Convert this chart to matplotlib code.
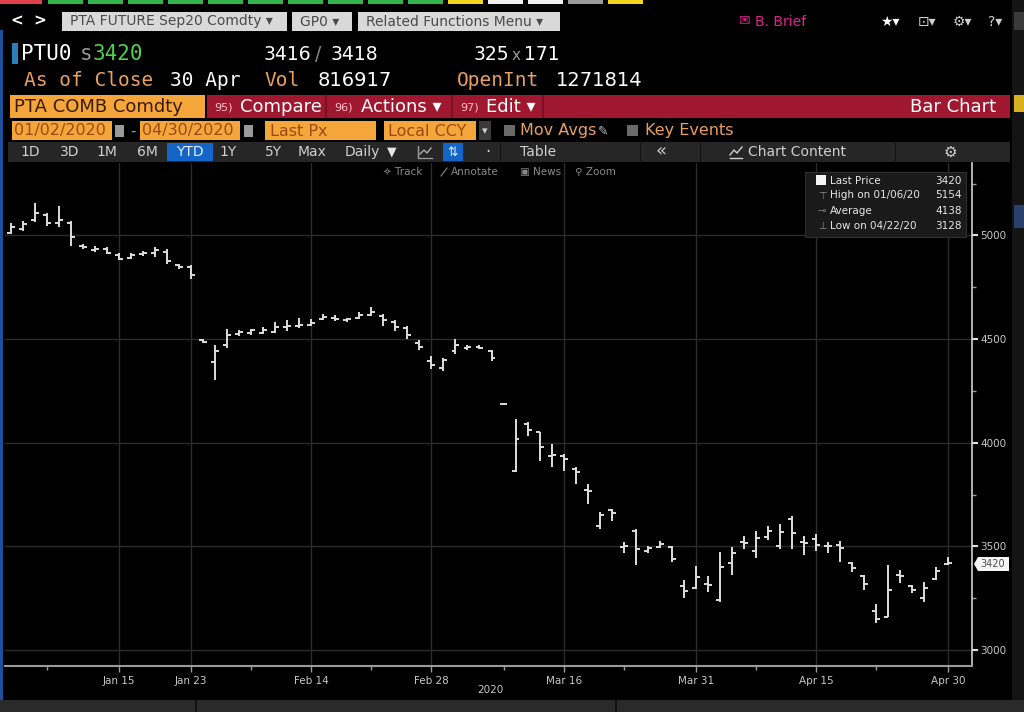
import matplotlib
matplotlib.use("Agg")
import matplotlib.pyplot as plt
from matplotlib.patches import Rectangle, Polygon
from matplotlib.lines import Line2D

# ---------------- data ----------------
dates = (["2020-01-%02d" % d for d in [2, 3, 6, 7, 8, 9, 10, 13, 14, 15, 16, 17, 20, 21, 22, 23]] +
         ["2020-02-%02d" % d for d in [3, 4, 5, 6, 7, 10, 11, 12, 13, 14, 17, 18, 19, 20, 21, 24, 25, 26, 27, 28]] +
         ["2020-03-%02d" % d for d in [2, 3, 4, 5, 6, 9, 10, 11, 12, 13, 16, 17, 18, 19, 20, 23, 24, 25, 26, 27, 30, 31]] +
         ["2020-04-%02d" % d for d in [1, 2, 3, 7, 8, 9, 10, 13, 14, 15, 16, 17, 20, 21, 22, 23, 24, 27, 28, 29, 30]])

opens = [5010, 5030, 5075, 5100, 5060, 5060, 4950, 4930, 4935, 4905, 4890, 4910, 4915, 4920, 4855, 4845,
         4495, 4390, 4470, 4525, 4530, 4530, 4535, 4560, 4565, 4570, 4595, 4600, 4590, 4600, 4615, 4610,
         4580, 4555, 4480, 4395, 4360, 4440, 4455, 4460, 4440, 4187, 3864, 4090, 4050, 3935, 3935, 3875,
         3770, 3600, 3675, 3495, 3575, 3480, 3495, 3495, 3310, 3300, 3320, 3240, 3420, 3520, 3480, 3545,
         3500, 3630, 3520, 3535, 3500, 3505, 3420, 3355, 3190, 3160, 3360, 3310, 3250, 3345, 3415]
highs = [5060, 5070, 5154, 5110, 5140, 5070, 4958, 4948, 4945, 4915, 4915, 4925, 4945, 4935, 4862, 4855,
         4500, 4470, 4550, 4545, 4550, 4560, 4580, 4590, 4600, 4598, 4620, 4615, 4600, 4630, 4655, 4620,
         4590, 4565, 4495, 4420, 4410, 4500, 4470, 4470, 4445, 4190, 4114, 4100, 4051, 3993, 3945, 3882,
         3800, 3664, 3680, 3520, 3582, 3500, 3525, 3500, 3340, 3403, 3355, 3475, 3495, 3548, 3572, 3596,
         3606, 3645, 3548, 3560, 3520, 3525, 3427, 3364, 3220, 3410, 3385, 3315, 3330, 3400, 3450]
lows = [5005, 5020, 5065, 5045, 5040, 4950, 4935, 4920, 4910, 4880, 4885, 4900, 4895, 4860, 4840, 4790,
        4480, 4300, 4455, 4515, 4520, 4525, 4530, 4540, 4555, 4565, 4590, 4585, 4580, 4595, 4610, 4565,
        4540, 4500, 4445, 4355, 4348, 4430, 4445, 4450, 4395, 4182, 3858, 4032, 3911, 3882, 3862, 3800,
        3703, 3582, 3620, 3470, 3412, 3470, 3490, 3427, 3253, 3292, 3282, 3230, 3364, 3485, 3446, 3533,
        3485, 3485, 3460, 3480, 3470, 3427, 3378, 3290, 3128, 3160, 3325, 3275, 3230, 3340, 3410]
closes = [5040, 5055, 5110, 5060, 5075, 4990, 4945, 4935, 4915, 4885, 4905, 4915, 4930, 4875, 4845, 4810,
          4488, 4440, 4520, 4535, 4545, 4545, 4560, 4565, 4570, 4575, 4605, 4595, 4595, 4615, 4630, 4590,
          4560, 4520, 4460, 4375, 4400, 4470, 4460, 4458, 4410, 4185, 4017, 4060, 3978, 3940, 3920, 3860,
          3765, 3650, 3660, 3500, 3485, 3490, 3510, 3440, 3285, 3350, 3315, 3400, 3470, 3515, 3540, 3575,
          3570, 3565, 3515, 3505, 3500, 3490, 3395, 3320, 3150, 3290, 3355, 3290, 3300, 3380, 3420]

xtick_dates = ["2020-01-15", "2020-01-23", "2020-02-14", "2020-02-28", "2020-03-16",
               "2020-03-31", "2020-04-15", "2020-04-30"]
xtick_labels = ["Jan 15", "Jan 23", "Feb 14", "Feb 28", "Mar 16", "Mar 31", "Apr 15", "Apr 30"]
minor_dates = ["2020-01-07", "2020-02-07", "2020-02-21", "2020-03-09", "2020-03-23",
               "2020-04-08", "2020-04-22"]
yticks = [3000, 3500, 4000, 4500, 5000]

legend_labels = ["Last Price", "High on 01/06/20", "Average", "Low on 04/22/20"]
legend_values = ["3420", "5154", "4138", "3128"]

# ---------------- figure helpers ----------------
W, H = 1024, 712
fig = plt.figure(figsize=(W / 100, H / 100), dpi=100, facecolor="black")


def fx(x):
    return x / W


def fy(y):
    return 1 - y / H


def rect(x0, y0, x1, y1, color, z=1, **kw):
    fig.patches.append(Rectangle((fx(x0), fy(y1)), (x1 - x0) / W, (y1 - y0) / H,
                                 transform=fig.transFigure, facecolor=color,
                                 edgecolor=kw.pop("ec", "none"), lw=kw.pop("lw", 0), zorder=z, **kw))


def txt(x, y, s, color="white", size=10, ha="left", family="DejaVu Sans", **kw):
    fig.text(fx(x), fy(y), s, color=color, fontsize=size, ha=ha, va="center",
             family=family, **kw)


def pline(pts, color, lw=1.0, z=5):
    fig.lines.append(Line2D([fx(p[0]) for p in pts], [fy(p[1]) for p in pts],
                            transform=fig.transFigure, color=color, lw=lw, zorder=z))


# top colored tabs
rect(0, 0, 42, 4, "#e0404a")
for k in range(10):
    rect(48 + k * 40, 0, 83 + k * 40, 4, "#2fb34a")
rect(448, 0, 483, 4, "#f2d51c")
rect(488, 0, 523, 4, "#f0f0f0")
rect(528, 0, 563, 4, "#f0f0f0")
rect(568, 0, 603, 4, "#9a9a9a")
rect(608, 0, 643, 4, "#f2d51c")

# left blue border
rect(0, 30, 3, 712, "#1f4f9a")

# row 1
txt(10, 21, "<", "white", 11, weight="bold")
txt(33, 21, ">", "white", 11, weight="bold")
rect(62, 12, 287, 31, "#d9d9d9")
txt(70, 21.5, "PTA FUTURE Sep20 Comdty ▾", "#4a4a4a", 10)
rect(292, 12, 352, 31, "#d9d9d9")
txt(300, 21.5, "GP0 ▾", "#4a4a4a", 10)
rect(358, 12, 560, 31, "#d9d9d9")
txt(366, 21.5, "Related Functions Menu ▾", "#4a4a4a", 10)
txt(738, 21.5, "✉", "#e0208f", 10)
txt(755, 21.5, "B. Brief", "#e0208f", 10)
txt(880, 21.5, "★▾", "white", 10)
txt(918, 21.5, "⊡▾", "#cfcfcf", 10)
txt(953, 21.5, "⚙▾", "#cfcfcf", 10)
txt(988, 21.5, "?▾", "#cfcfcf", 10)

# row 2
rect(12, 43, 18, 64, "#2a7fc0")
txt(21, 54, "PTU0", "white", 15, family="DejaVu Sans Mono")
txt(80, 54, "s", "#9a9a9a", 15, family="DejaVu Sans Mono")
txt(93, 54, "3420", "#4fd04f", 15, family="DejaVu Sans Mono")
txt(264, 54, "3416", "white", 13.5)
txt(315, 54, "/", "#8a8a8a", 13.5)
txt(331, 54, "3418", "white", 13.5)
txt(474, 54, "325", "white", 13.5)
txt(512, 55, "x", "#9a9a9a", 11)
txt(524, 54, "171", "white", 13.5)

# row 3
txt(24, 81, "As of Close", "#e8a060", 14, family="DejaVu Sans Mono")
txt(170, 81, "30 Apr", "white", 14, family="DejaVu Sans Mono")
txt(264, 81, "Vol", "#e8a060", 14, family="DejaVu Sans Mono")
txt(318, 81, "816917", "white", 14)
txt(457, 81, "OpenInt", "#e8a060", 14, family="DejaVu Sans Mono")
txt(556, 81, "1271814", "white", 14)

# row 4
rect(10, 95, 205, 118, "#f5a63a")
txt(14, 107, "PTA COMB Comdty", "#3a1a05", 13)
rect(207, 95, 1010, 118, "#a01830")
rect(325, 95, 327, 118, "#7a1024")
rect(451, 95, 453, 118, "#7a1024")
rect(542, 95, 544, 118, "#7a1024")
txt(214, 107, "95)", "#ffc0c8", 8)
txt(240, 107, "Compare", "white", 13)
txt(334, 107, "96)", "#ffc0c8", 8)
txt(361, 107, "Actions ▾", "white", 13)
txt(460, 107, "97)", "#ffc0c8", 8)
txt(486, 107, "Edit ▾", "white", 13)
txt(996, 107, "Bar Chart", "white", 13, ha="right")

# row 5
rect(12, 121, 112, 140, "#f5a63a")
txt(14, 131, "01/02/2020", "#9a4a10", 11.5)
rect(115, 125, 124, 137, "#9a9a9a")
txt(130, 131, "-", "#9a9a9a", 11)
rect(140, 121, 240, 140, "#f5a63a")
txt(142, 131, "04/30/2020", "#9a4a10", 11.5)
rect(244, 125, 253, 137, "#9a9a9a")
rect(265, 121, 376, 140, "#f5a63a")
txt(270, 131, "Last Px", "#9a4a10", 11.5)
rect(384, 121, 476, 140, "#f5a63a")
txt(388, 131, "Local CCY", "#9a4a10", 11.5)
rect(479, 121, 491, 140, "#3a3a3a")
txt(482, 131, "▾", "#d0d0d0", 8)
rect(504, 125, 515, 136, "#6a6a6a")
txt(520, 131, "Mov Avgs", "#e8a060", 11.5)
txt(598, 131, "✎", "#bbbbbb", 9)
rect(627, 125, 638, 136, "#6a6a6a")
txt(645, 131, "Key Events", "#e8a060", 11.5)

# row 6
rect(8, 142, 1010, 162, "#262626")
for xs_ in [500, 640, 700, 895]:
    rect(xs_, 142, xs_ + 1, 162, "#111111")
rect(167, 143, 213, 161, "#1565c8")
items = [(30, "1D"), (70, "3D"), (107, "1M"), (147, "6M"), (228, "1Y"), (273, "5Y"), (312, "Max"),
         (362, "Daily")]
for xx, s in items:
    txt(xx, 152, s, "#cfcfcf", 10, ha="center")
txt(190, 152, "YTD", "#e8f0ff", 10, ha="center")
txt(392, 152, "▼", "#e6e6e6", 9, ha="center")
pline([(418, 158), (418, 146), (418, 158), (432, 158)], "#9a9a9a", 0.9)
pline([(420, 154), (424, 150), (427, 153), (431, 148)], "#bbbbbb", 0.9)
rect(443, 143, 463, 161, "#1565c8")
txt(453, 152, "⇅", "#e8f0ff", 9, ha="center")
txt(488, 152, "·", "#cfcfcf", 12, ha="center")
txt(520, 152, "Table", "#cfcfcf", 10)
txt(661, 151, "«", "#cfcfcf", 13, ha="center")
pline([(730, 158), (742, 158)], "#cfcfcf", 1.0)
pline([(730, 155), (734, 150), (737, 153), (742, 147)], "#cfcfcf", 1.0)
txt(748, 152, "Chart Content", "#cfcfcf", 10)
txt(950, 152, "⚙", "#cfcfcf", 11, ha="center")

# right edge strip
rect(1012, 0, 1024, 712, "#141414")
rect(1014, 95, 1024, 112, "#d8b020")
rect(1014, 205, 1024, 228, "#28406a")
rect(1014, 12, 1024, 30, "#3a3a3a")

# bottom strip
rect(0, 700, 1024, 712, "#2a2a2a")
rect(195, 700, 197, 712, "#111111")
rect(615, 700, 617, 712, "#111111")

# ---------------- chart ----------------
left, right, top, bottom = 5, 972, 163, 666
ax = fig.add_axes([fx(left), fy(bottom), (right - left) / W, (bottom - top) / H])
ax.set_facecolor("black")

xs = list(range(len(dates)))
pos = {d: i for i, d in enumerate(dates)}
bar_c = "#dedede"
tw = 0.33
ax.vlines(xs, lows, highs, color=bar_c, lw=1.4, zorder=3)
ax.hlines(opens, [x - tw for x in xs], xs, color=bar_c, lw=1.4, zorder=3)
ax.hlines(closes, xs, [x + tw for x in xs], color=bar_c, lw=1.4, zorder=3)

ax.set_xlim(-0.5, 80.0)
ax.set_ylim(2923, 5349)

major_x = [pos[d] for d in xtick_dates]
ax.set_xticks(major_x)
ax.set_xticklabels(xtick_labels, color="#c8c8c8", fontsize=7.5)
ax.set_xticks([pos[d] for d in minor_dates], minor=True)
ax.yaxis.tick_right()
ax.set_yticks(yticks)
ax.set_yticklabels([str(v) for v in yticks], color="#c8c8c8", fontsize=7.5)
ax.set_yticks([3250, 3750, 4250, 4750, 5250], minor=True)
ax.tick_params(axis="x", which="major", colors="#9a9a9a", length=4, width=1, pad=3,
               labelcolor="#c8c8c8")
ax.tick_params(axis="x", which="minor", colors="#9a9a9a", length=3, width=1)
ax.tick_params(axis="y", which="major", colors="#e0e0e0", length=4, width=1.5, pad=2,
               labelcolor="#c8c8c8")
ax.tick_params(axis="y", which="minor", colors="#9a9a9a", length=3, width=1)

for v in yticks:
    ax.axhline(v, color="#2c2c2c", lw=1, zorder=1)
for xv in major_x:
    ax.axvline(xv, color="#2c2c2c", lw=1, zorder=1)

for s in ["top", "left"]:
    ax.spines[s].set_visible(False)
ax.spines["right"].set_color("#d0d0d0")
ax.spines["right"].set_linewidth(1.2)
ax.spines["bottom"].set_color("#9a9a9a")
ax.spines["bottom"].set_linewidth(1.5)

txt(490, 690, "2020", "#c8c8c8", 7.5, ha="center")

# track / annotate toolbar
txt(383, 172, "✧ Track", "#8a8a8a", 7.5)
pline([(441, 176), (447, 168)], "#8a8a8a", 0.8)
txt(451, 172, "Annotate", "#8a8a8a", 7.5)
txt(520, 172, "▣ News", "#8a8a8a", 7.5)
txt(575, 172, "⚲ Zoom", "#8a8a8a", 7.5)

# legend box
rect(805, 172, 966, 237, "#1a1a1a", z=5, ec="#2e2e2e", lw=0.8)
rect(816, 175, 826, 185, "#f4f4f4", z=6)
ly = [180.5, 195.5, 211, 226]
icons = ["", "⊤", "⊸", "⊥"]
for i in range(4):
    if icons[i]:
        txt(818, ly[i], icons[i], "#8a8a8a", 7, zorder=6)
    txt(830, ly[i], legend_labels[i], "#e6e6e6", 7.5, zorder=6)
    txt(962, ly[i], legend_values[i], "#e6e6e6", 7.5, ha="right", zorder=6)

# last price tag
fig.patches.append(Polygon([(fx(974), fy(564)), (fx(978), fy(557)), (fx(1009), fy(557)),
                            (fx(1009), fy(571)), (fx(978), fy(571))], closed=True,
                           transform=fig.transFigure, facecolor="#f4f4f4",
                           edgecolor="none", zorder=6))
txt(993, 564, "3420", "#505050", 7, ha="center", zorder=7)

fig.savefig("out.png", dpi=100, facecolor="black")
